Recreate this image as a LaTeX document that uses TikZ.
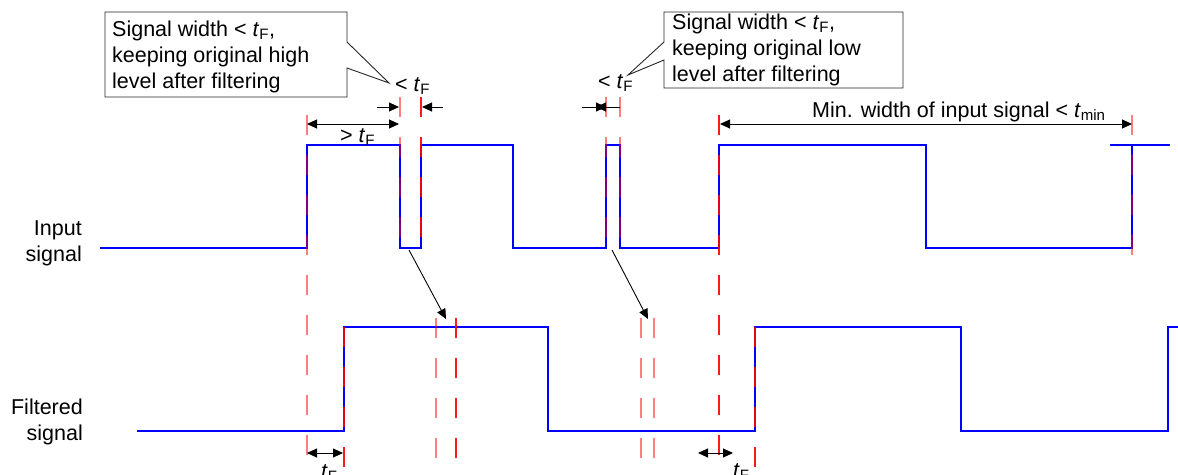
\documentclass[tikz,border=0pt]{standalone}
\usepackage{fontspec}
\setmainfont{Liberation Sans}
\usetikzlibrary{arrows.meta, calc}
\newcommand{\tF}{\textit{t}\textsubscript{F}}
\newcommand{\tmin}{\textit{t}\textsubscript{min}}

\begin{document}
\begin{tikzpicture}[
    x=1pt, y=-1pt,
    every node/.style={font=\fontsize{21.5}{26}\selectfont, inner sep=0pt},
    sig/.style={draw=blue, line width=1.5pt},
    edgelight/.style={draw=red, draw opacity=0.5, line width=1.5pt, dash pattern=on 20pt off 20pt},
    edgedark/.style={draw=red, draw opacity=0.9, line width=1.5pt, dash pattern=on 20pt off 20pt},
    dim/.style={{Triangle[length=10pt,width=9pt]}-{Triangle[length=10pt,width=9pt]}, line width=0.9pt},
    dimr/.style={-{Triangle[length=10pt,width=9pt]}, line width=0.9pt},
    callout/.style={draw=black!85, line width=0.9pt, fill=white}
]
\useasboundingbox (0,0) rectangle (1178,474);

% input and filtered signals
\draw[sig] (100,248) -- (307,248) -- (307,145) -- (400,145) -- (400,248) -- (421,248) -- (421,145)
    -- (513,145) -- (513,248) -- (606,248) -- (606,145) -- (620,145) -- (620,248) -- (719,248)
    -- (719,145) -- (926,145) -- (926,248) -- (1132,248) -- (1132,145);
\draw[sig] (1110,145) -- (1170,145);
\draw[sig] (137,431) -- (344,431) -- (344,327) -- (548,327) -- (548,431) -- (755,431) -- (755,327)
    -- (961,327) -- (961,431) -- (1168,431) -- (1168,327) -- (1178,327);

% edge markers
\foreach \x/\ya/\yb in {307/115/458, 400/97/250, 606/97/250, 620/97/250, 1132/115/255,
                        436/318/460, 641/318/460, 654/318/460}
    \draw[edgelight] (\x,\ya) -- (\x,\yb);
\foreach \x/\ya/\yb in {421/97/250, 456/318/460, 719/115/460, 344/327/474, 755/327/474}
    \draw[edgedark] (\x,\ya) -- (\x,\yb);

% signal labels
\node[anchor=north east, align=right] (inlbl) at (82,221) {Input\\signal};
\node[anchor=north east, align=right] (filtlbl) at (83,399) {Filtered\\signal};

% widths
\draw[dim] (307,124) -- (399,124);
\node[anchor=base west] (gtF) at (340,142) {> \tF};
\draw[dimr] (377,107) -- (399,107);
\draw[dimr] (443,107) -- (422,107);
\node[anchor=base west] (ltFa) at (395,91) {< \tF};
\draw[dimr] (582,107) -- (606,107);
\draw[dimr] (620,107) -- (596,107);
\node[anchor=base west] (ltFb) at (598,88) {< \tF};
\draw[dim] (720,124) -- (1132,124);
\node[anchor=base west] (minw) at (812,117) {Min. width of input signal < \tmin};
\draw[dim] (307,453) -- (343,453);
\node[anchor=base west] (tFa) at (321,478) {\tF};
\draw[dim] (698,453) -- (733,453);
\node[anchor=base west] (tFb) at (733,477) {\tF};

% pulse to filtered output
\draw[dimr] (409,250) -- (446,319);
\draw[dimr] (612,250) -- (648,319);

% callouts
\draw[callout] (105,12) -- (347,12) -- (347,42) -- (389,83) -- (347,68) -- (347,97) -- (105,97) -- cycle;
\node[anchor=north west, align=left] (noteH) at (112,21)
    {Signal width < \tF,\\keeping original high\\level after filtering};
\draw[callout] (664,12) -- (903,12) -- (903,88) -- (664,88) -- (664,60) -- (628,75) -- (664,42) -- cycle;
\node[anchor=north west, align=left] (noteL) at (672,14)
    {Signal width < \tF,\\keeping original low\\level after filtering};
\end{tikzpicture}
\end{document}
